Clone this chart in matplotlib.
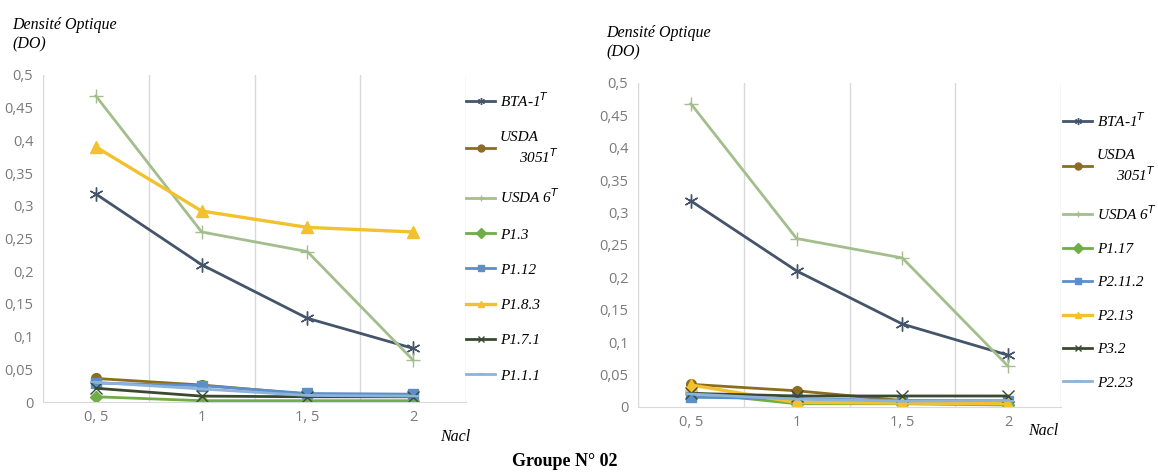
import matplotlib
matplotlib.use("Agg")
import matplotlib.pyplot as plt
from matplotlib.ticker import FixedLocator

# ---------------- data ----------------
categories = ["0, 5", "1", "1, 5", "2"]
y_ticks = [0, 0.05, 0.1, 0.15, 0.2, 0.25, 0.3, 0.35, 0.4, 0.45, 0.5]
y_tick_labels = ["0", "0,05", "0,1", "0,15", "0,2", "0,25", "0,3", "0,35", "0,4", "0,45", "0,5"]

left_labels = ["BTA-1$^T$", "USDA\n     3051$^T$", "USDA 6$^T$", "P1.3", "P1.12", "P1.8.3", "P1.7.1", "P1.1.1"]
left_bta = [0.318, 0.21, 0.128, 0.082]
left_usda3051 = [0.036, 0.026, 0.012, 0.010]
left_usda6 = [0.468, 0.26, 0.23, 0.064]
left_p1_3 = [0.008, 0.002, 0.002, 0.002]
left_p1_12 = [0.029, 0.025, 0.013, 0.012]
left_p1_8_3 = [0.39, 0.292, 0.267, 0.26]
left_p1_7_1 = [0.021, 0.009, 0.008, 0.008]
left_p1_1_1 = [0.030, 0.020, 0.010, 0.009]

right_labels = ["BTA-1$^T$", "USDA\n     3051$^T$", "USDA 6$^T$", "P1.17", "P2.11.2", "P2.13", "P3.2", "P2.23"]
right_bta = [0.318, 0.21, 0.128, 0.08]
right_usda3051 = [0.035, 0.025, 0.010, 0.008]
right_usda6 = [0.468, 0.26, 0.23, 0.063]
right_p1_17 = [0.022, 0.005, 0.005, 0.003]
right_p2_11_2 = [0.015, 0.013, 0.010, 0.010]
right_p2_13 = [0.034, 0.007, 0.006, 0.005]
right_p3_2 = [0.021, 0.017, 0.017, 0.017]
right_p2_23 = [0.020, 0.012, 0.009, 0.010]

# ---------------- styles ----------------
styles = [
    dict(color="#44546A", marker=(6, 2, 0), ms=10, mew=1.0, lw=2.0),   # BTA
    dict(color="#8C6D1F", marker="o", ms=7, mew=1.0, lw=2.0),          # USDA 3051
    dict(color="#A3BE8C", marker="+", ms=10, mew=1.0, lw=2.0),         # USDA 6
    dict(color="#70AD47", marker="D", ms=6, mew=1.0, lw=2.0),          # green
    dict(color="#5B8FC9", marker="s", ms=7, mew=1.0, lw=2.0),          # blue
    dict(color="#F2C12E", marker="^", ms=8, mew=1.0, lw=2.4),          # yellow
    dict(color="#3A4A30", marker="x", ms=8, mew=1.0, lw=2.0),          # dark
    dict(color="#8DB3D9", marker="_", ms=8, mew=1.5, lw=2.0),          # light blue
]

serif_it = dict(family="Liberation Serif", style="italic")

fig = plt.figure(figsize=(11.58, 4.76), dpi=100)
fig.patch.set_facecolor("white")


def make_panel(rect, series, labels, leg_anchor, spacing):
    ax = fig.add_axes(rect)
    x = list(range(len(categories)))
    for s, lab, st in zip(series, labels, styles):
        ax.plot(x, s, label=lab, color=st["color"], marker=st["marker"],
                markersize=st["ms"], markeredgewidth=st["mew"], linewidth=st["lw"],
                markerfacecolor=st["color"], markeredgecolor=st["color"],
                solid_joinstyle="round")
    ax.set_xlim(-0.5, len(categories) - 0.5)
    ax.set_ylim(0, 0.5)
    ax.set_xticks(x)
    ax.set_xticklabels(categories)
    ax.xaxis.set_minor_locator(FixedLocator([i - 0.5 for i in range(len(categories) + 1)]))
    ax.grid(which="minor", axis="x", color="#D9D9D9", lw=1.0)
    ax.set_yticks(y_ticks)
    ax.set_yticklabels(y_tick_labels)
    for sp in ["top", "right", "left"]:
        ax.spines[sp].set_visible(False)
    ax.spines["bottom"].set_color("#D9D9D9")
    ax.tick_params(axis="both", which="both", length=0, labelsize=10.5, labelcolor="#7A7A7A", pad=7)
    for t in ax.get_xticklabels() + ax.get_yticklabels():
        t.set_family("Open Sans")
    ax.tick_params(axis="x", pad=6)
    leg = ax.legend(loc="upper left", bbox_to_anchor=leg_anchor, bbox_transform=fig.transFigure,
                    frameon=False, prop=dict(family="Liberation Serif", style="italic", size=11),
                    handlelength=1.9, handletextpad=0.3, labelspacing=spacing, borderaxespad=0,
                    borderpad=0)
    for h in leg.legend_handles:
        h.set_markersize(5)
    return ax


axL = make_panel([43 / 1158, 1 - 402 / 476, 423 / 1158, 327 / 476],
                 [left_bta, left_usda3051, left_usda6, left_p1_3, left_p1_12,
                  left_p1_8_3, left_p1_7_1, left_p1_1_1],
                 left_labels, (466 / 1158, 1 - 91 / 476), 1.41)
axR = make_panel([638 / 1158, 1 - 407 / 476, 423 / 1158, 324 / 476],
                 [right_bta, right_usda3051, right_usda6, right_p1_17, right_p2_11_2,
                  right_p2_13, right_p3_2, right_p2_23],
                 right_labels, (1063 / 1158, 1 - 111 / 476), 1.29)

# y-axis titles
fig.text(12 / 1158, 1 - 17 / 476, "Densité Optique\n(DO)", fontsize=11.5, va="top", ha="left",
         linespacing=1.3, **serif_it)
fig.text(606 / 1158, 1 - 25 / 476, "Densité Optique\n(DO)", fontsize=11.5, va="top", ha="left",
         linespacing=1.3, **serif_it)
# x-axis titles
fig.text(455 / 1158, 1 - 437 / 476, "Nacl", fontsize=11.5, ha="center", va="center", **serif_it)
fig.text(1043 / 1158, 1 - 431 / 476, "Nacl", fontsize=11.5, ha="center", va="center", **serif_it)
# group caption
fig.text(565 / 1158, 1 - 462 / 476, "Groupe N° 02", fontsize=13, fontweight="bold",
         family="Liberation Serif", ha="center", va="center")

fig.savefig("out.png", dpi=100, facecolor="white")
